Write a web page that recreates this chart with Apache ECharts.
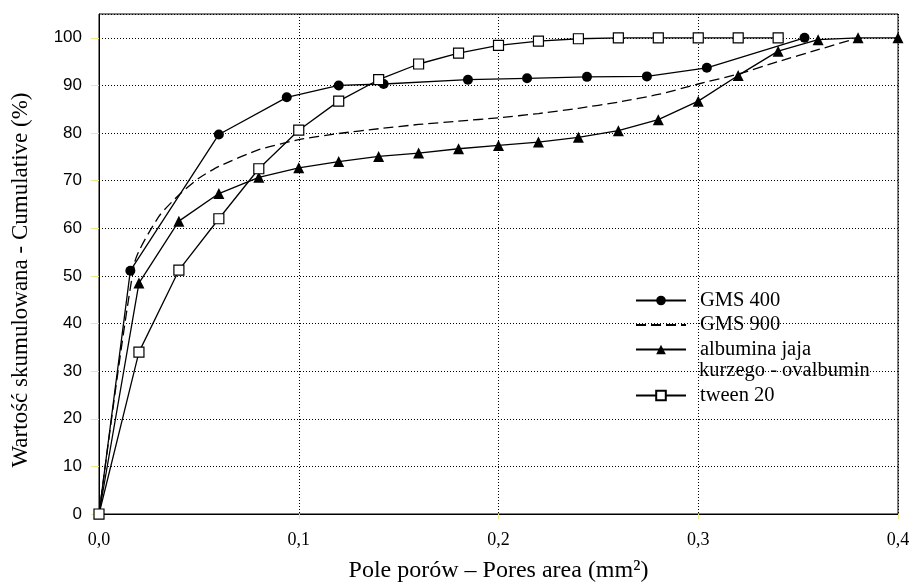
<!DOCTYPE html>
<html>
<head>
<meta charset="utf-8">
<script src="https://cdn.jsdelivr.net/npm/echarts@6/dist/echarts.min.js"></script>
<style>
  html, body { margin: 0; padding: 0; background: #fff; }
  #chart { width: 909px; height: 583px; }
</style>
</head>
<body>
<div id="chart"></div>
<script>
// values
const gms400X = [0, 0.0157, 0.06, 0.094, 0.12, 0.1425, 0.1847, 0.2143, 0.2443, 0.2743, 0.3043, 0.3532];
const gms400Y = [0, 51.1, 79.7, 87.5, 90.0, 90.3, 91.2, 91.5, 91.8, 91.9, 93.7, 100];

const gms900X = [0, 0.018, 0.03, 0.04, 0.05, 0.06, 0.08, 0.1, 0.12, 0.14, 0.16, 0.18, 0.2, 0.22, 0.24, 0.26, 0.28, 0.3, 0.32, 0.34, 0.36, 0.38];
const gms900Y = [0, 53, 62.5, 67, 70.5, 73, 76.5, 78.6, 79.9, 80.9, 81.8, 82.5, 83.2, 84.1, 85.2, 86.5, 88.1, 90.3, 92.4, 95, 97.5, 100];

const albuminaX = [0, 0.02, 0.04, 0.06, 0.08, 0.1, 0.12, 0.14, 0.16, 0.18, 0.2, 0.22, 0.24, 0.26, 0.28, 0.3, 0.32, 0.34, 0.36, 0.38, 0.4];
const albuminaY = [0, 48.5, 61.5, 67.3, 70.7, 72.7, 74.0, 75.1, 75.8, 76.7, 77.4, 78.1, 79.1, 80.5, 82.8, 86.7, 92.1, 97.2, 99.6, 100, 100];

const tweenX = [0, 0.02, 0.04, 0.06, 0.08, 0.1, 0.12, 0.14, 0.16, 0.18, 0.2, 0.22, 0.24, 0.26, 0.28, 0.3, 0.32, 0.34];
const tweenY = [0, 34.0, 51.2, 62.0, 72.5, 80.6, 86.7, 91.2, 94.5, 96.8, 98.4, 99.3, 99.8, 100, 100, 100, 100, 100];

const seriesNames = ['GMS 400', 'GMS 900', 'albumina jaja', 'tween 20'];
const legendSecondLine = 'kurzego - ovalbumin';

const xTitle = 'Pole porów – Pores area (mm²)';
const yTitle = 'Wartość skumulowana - Cumulative (%)';

const zip = (xs, ys) => xs.map((x, i) => [x, ys[i]]);

const serif = '"Liberation Serif", "Times New Roman", serif';
const sans = '"Liberation Sans", Arial, sans-serif';
const tickYellow = '#ecec8a';
const dots = { color: '#000', width: 1, type: [1, 2] };
const legendText = { color: '#000', fontFamily: serif, fontSize: 20.5, lineHeight: 20, padding: [0, 0, 0, 9] };

const chart = echarts.init(document.getElementById('chart'), null, { renderer: 'canvas' });

const lineBase = {
  type: 'line',
  showSymbol: true,
  animation: false,
  lineStyle: { color: '#000', width: 1.3 },
  itemStyle: { color: '#000' },
};

chart.setOption({
  backgroundColor: '#fff',
  grid: {
    left: 99, right: 11, top: 14, bottom: 69,
    outerBoundsMode: 'none',
    show: true, borderColor: '#000', borderWidth: 1,
  },
  xAxis: {
    type: 'value', min: 0, max: 0.4, interval: 0.1,
    axisLine: { show: true, lineStyle: { color: '#000', width: 1 } },
    axisTick: { show: true, length: 5, lineStyle: { color: tickYellow, width: 1 } },
    axisLabel: {
      color: '#000', fontFamily: serif, fontSize: 18, margin: 17,
      formatter: v => v.toFixed(1).replace('.', ','),
    },
    splitLine: { show: true, lineStyle: dots },
    name: xTitle, nameLocation: 'middle', nameGap: 45,
    nameTextStyle: { color: '#000', fontFamily: serif, fontSize: 24 },
  },
  yAxis: {
    type: 'value', min: 0, max: 105, interval: 10,
    axisLine: { show: true, lineStyle: { color: '#000', width: 1 } },
    axisTick: { show: true, length: 8, lineStyle: { color: tickYellow, width: 1 } },
    axisLabel: {
      color: '#000', fontFamily: sans, fontSize: 17, margin: 17,
      showMaxLabel: false,
      formatter: v => (v % 10 === 0 ? String(v) : ''),
    },
    splitLine: { show: true, lineStyle: dots },
    name: yTitle, nameLocation: 'middle', nameGap: 67,
    nameTextStyle: { color: '#000', fontFamily: serif, fontSize: 23, padding: [0, 32, 0, 0] },
  },
  legend: [
    {
      data: [
        seriesNames[0],
        { name: seriesNames[1], itemStyle: { opacity: 0, color: 'rgba(0,0,0,0)', borderWidth: 0 } },
        seriesNames[2],
      ],
      orient: 'vertical', left: 635, top: 290, padding: 0,
      itemWidth: 50, itemHeight: 12, itemGap: 3.5,
      textStyle: legendText,
    },
    {
      data: seriesNames.slice(3),
      orient: 'vertical', left: 635, top: 385, padding: 0,
      itemWidth: 50, itemHeight: 12, itemGap: 3.5,
      textStyle: legendText,
    },
  ],
  graphic: [{
    type: 'text', left: 699, top: 360, silent: true,
    style: { text: legendSecondLine, fill: '#000', font: '20.5px ' + serif },
  }],
  series: [
    Object.assign({}, lineBase, {
      name: seriesNames[0], data: zip(gms400X, gms400Y),
      symbol: 'circle', symbolSize: 10,
    }),
    Object.assign({}, lineBase, {
      name: seriesNames[1], data: zip(gms900X, gms900Y),
      symbol: 'none', showSymbol: false, smooth: 0.2,
      lineStyle: { color: '#000', width: 1.3, type: [10, 5] },
    }),
    Object.assign({}, lineBase, {
      name: seriesNames[2], data: zip(albuminaX, albuminaY),
      symbol: 'triangle', symbolSize: 11,
    }),
    Object.assign({}, lineBase, {
      name: seriesNames[3], data: zip(tweenX, tweenY),
      symbol: 'rect', symbolSize: 10,
      itemStyle: { color: '#fff', borderColor: '#000', borderWidth: 1.2 },
    }),
  ],
});
</script>
</body>
</html>
